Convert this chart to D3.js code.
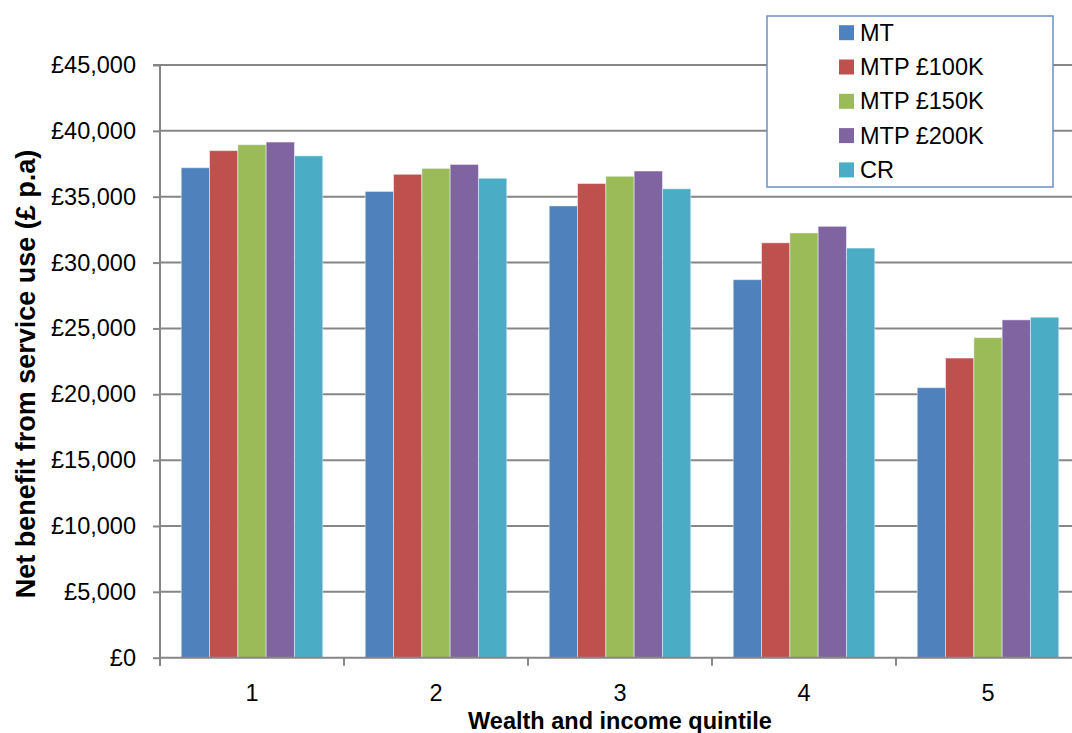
<!DOCTYPE html>
<html>
<head>
<meta charset="utf-8">
<script src="https://cdn.jsdelivr.net/npm/d3@7"></script>
<style>
  html, body { margin: 0; padding: 0; background: #fff; }
  svg { display: block; font-family: "Liberation Sans", Arial, sans-serif; }
</style>
</head>
<body>
<svg id="chart" width="1072" height="733"></svg>
<script>
// Quintiles along the x axis
const quintiles = ["1", "2", "3", "4", "5"];

// Funding schemes (one bar per scheme in each quintile)
const schemes = ["MT", "MTP £100K", "MTP £150K", "MTP £200K", "CR"];

// Net benefit from service use, £ per annum, per scheme across quintiles 1..5
const mt      = [37200, 35400, 34300, 28700, 20500];
const mtp100k = [38500, 36700, 36000, 31500, 22750];
const mtp150k = [38950, 37150, 36550, 32250, 24300];
const mtp200k = [39150, 37450, 36950, 32750, 25650];
const cr      = [38100, 36400, 35600, 31100, 25850];

const seriesValues = [mt, mtp100k, mtp150k, mtp200k, cr];
const seriesColors = ["#4F81BD", "#C0504D", "#9BBB59", "#8064A2", "#4BACC6"];

// Y axis ticks
const yTicks = [0, 5000, 10000, 15000, 20000, 25000, 30000, 35000, 40000, 45000];

const svg = d3.select("#chart");

const plot = { left: 160, right: 1080, top: 65, bottom: 657.7 };

const x0 = d3.scaleBand()
  .domain(quintiles)
  .range([plot.left, plot.right])
  .paddingInner(0).paddingOuter(0);

const x1 = d3.scaleBand()
  .domain(schemes)
  .range([0, x0.bandwidth()])
  .paddingInner(0)
  .paddingOuter(0.75);

const y = d3.scaleLinear()
  .domain([0, 45000])
  .range([plot.bottom, plot.top]);

const gridColor = "#868686";

// Horizontal gridlines
svg.append("g")
  .selectAll("line")
  .data(yTicks.filter(d => d > 0))
  .join("line")
  .attr("x1", plot.left)
  .attr("x2", 1072)
  .attr("y1", d => y(d))
  .attr("y2", d => y(d))
  .attr("stroke", gridColor)
  .attr("stroke-width", 2);

// Bars
const groups = svg.append("g")
  .selectAll("g")
  .data(quintiles)
  .join("g")
  .attr("transform", d => `translate(${x0(d)},0)`);

groups.selectAll("rect")
  .data((q, qi) => schemes.map((s, si) => ({ scheme: s, value: seriesValues[si][qi], color: seriesColors[si] })))
  .join("rect")
  .attr("x", d => x1(d.scheme))
  .attr("width", x1.bandwidth())
  .attr("y", d => y(d.value))
  .attr("height", d => y(0) - y(d.value))
  .attr("fill", d => d.color)
  .attr("stroke", "rgba(255,255,255,0.45)")
  .attr("stroke-width", 1);

// Y axis
const yAxis = svg.append("g")
  .attr("transform", `translate(${plot.left},0)`)
  .call(d3.axisLeft(y)
    .tickValues(yTicks)
    .tickSize(7)
    .tickPadding(17)
    .tickFormat(d => "£" + d3.format(",")(d)));
yAxis.select(".domain").attr("stroke", gridColor).attr("stroke-width", 2)
  .attr("d", `M-7,${plot.top}H0V${plot.bottom + 8}`);
yAxis.selectAll(".tick line").attr("stroke", gridColor).attr("stroke-width", 2);
yAxis.selectAll(".tick text")
  .attr("fill", "#000")
  .style("font-size", "23.5px")
  .style("font-family", "'Liberation Sans', Arial, sans-serif");

// X axis: ticks on category boundaries, labels centered on each quintile
const xAxisG = svg.append("g").attr("transform", `translate(0,${plot.bottom})`);
xAxisG.append("line")
  .attr("x1", plot.left).attr("x2", 1072)
  .attr("y1", 0).attr("y2", 0)
  .attr("stroke", gridColor).attr("stroke-width", 2);
xAxisG.selectAll("line.tk")
  .data(quintiles)
  .join("line")
  .attr("class", "tk")
  .attr("x1", d => x0(d)).attr("x2", d => x0(d))
  .attr("y1", 0).attr("y2", 8)
  .attr("stroke", gridColor).attr("stroke-width", 2);
xAxisG.selectAll("text")
  .data(quintiles)
  .join("text")
  .attr("x", d => x0(d) + x0.bandwidth() / 2)
  .attr("y", 43)
  .attr("text-anchor", "middle")
  .style("font-size", "23.5px")
  .attr("fill", "#000")
  .text(d => d);

// Axis titles
svg.append("text")
  .attr("x", 620)
  .attr("y", 729)
  .attr("text-anchor", "middle")
  .style("font-size", "23.5px")
  .style("font-weight", "bold")
  .text("Wealth and income quintile");

svg.append("text")
  .attr("transform", `translate(35,374) rotate(-90)`)
  .attr("text-anchor", "middle")
  .style("font-size", "27px")
  .style("font-weight", "bold")
  .text("Net benefit from service use (£ p.a)");

// Legend
const legend = svg.append("g").attr("transform", "translate(767,16)");
legend.append("rect")
  .attr("width", 286)
  .attr("height", 171)
  .attr("fill", "#fff")
  .attr("stroke", "#6A8FC8")
  .attr("stroke-width", 1.5);
const items = legend.selectAll("g.item")
  .data(schemes)
  .join("g")
  .attr("class", "item")
  .attr("transform", (d, i) => `translate(72,${16.7 + i * 34.3})`);
items.append("rect")
  .attr("x", 0).attr("y", -7.5)
  .attr("width", 15).attr("height", 15)
  .attr("fill", (d, i) => seriesColors[i]);
items.append("text")
  .attr("x", 21)
  .attr("y", 8)
  .style("font-size", "23.5px")
  .attr("fill", "#000")
  .text(d => d);
</script>
</body>
</html>
